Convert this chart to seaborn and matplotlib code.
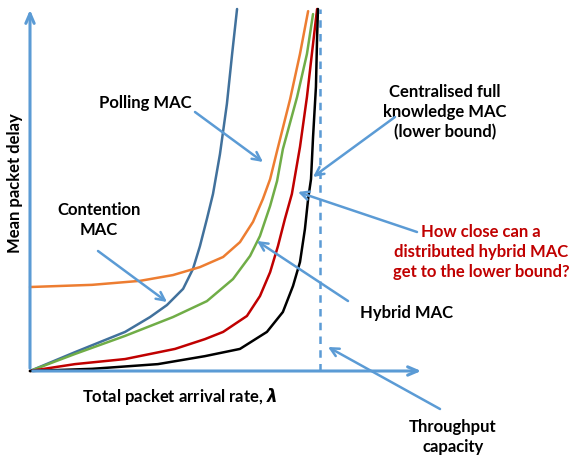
import matplotlib
matplotlib.use("Agg")
import matplotlib.pyplot as plt
import seaborn as sns
import pandas as pd

# arrival rate normalised so that throughput capacity = 1, delay normalised to the top of the axis
contention_x = [0, 0.155, 0.328, 0.414, 0.472, 0.528, 0.562, 0.586, 0.610, 0.631, 0.655, 0.679, 0.697, 0.714]
contention_y = [0, 0.052, 0.108, 0.149, 0.182, 0.227, 0.282, 0.345, 0.420, 0.489, 0.599, 0.738, 0.876, 1.0]

polling_x = [0, 0.214, 0.379, 0.493, 0.586, 0.666, 0.724, 0.769, 0.803, 0.828, 0.852, 0.897, 0.931, 0.959]
polling_y = [0.232, 0.238, 0.249, 0.265, 0.287, 0.315, 0.356, 0.412, 0.475, 0.530, 0.608, 0.751, 0.876, 0.994]

hybrid_x = [0, 0.155, 0.328, 0.493, 0.610, 0.700, 0.759, 0.793, 0.828, 0.852, 0.872, 0.921, 0.955, 0.976]
hybrid_y = [0, 0.047, 0.097, 0.149, 0.193, 0.254, 0.318, 0.373, 0.456, 0.525, 0.613, 0.757, 0.876, 0.986]

distributed_x = [0, 0.155, 0.328, 0.500, 0.603, 0.666, 0.748, 0.793, 0.828, 0.855, 0.879, 0.903,
                 0.931, 0.955, 0.972, 0.990]
distributed_y = [0, 0.019, 0.033, 0.061, 0.088, 0.108, 0.152, 0.207, 0.273, 0.345, 0.420, 0.489,
                 0.619, 0.757, 0.876, 1.0]

central_x = [0, 0.214, 0.441, 0.603, 0.724, 0.817, 0.872, 0.907, 0.931, 0.948, 0.959, 0.969,
             0.976, 0.986, 0.990, 0.993]
central_y = [0, 0.006, 0.019, 0.041, 0.061, 0.108, 0.163, 0.235, 0.301, 0.392, 0.475, 0.530,
             0.646, 0.785, 0.923, 1.0]

capacity = 1.0

curves = [
    (contention_x, contention_y, '#41719C'),
    (polling_x, polling_y, '#ED7D31'),
    (hybrid_x, hybrid_y, '#70AD47'),
    (distributed_x, distributed_y, '#C00000'),
    (central_x, central_y, '#000000'),
]

sns.set_style('white')
plt.rcParams['font.family'] = ['Lato', 'DejaVu Sans']
plt.rcParams['mathtext.fontset'] = 'custom'
plt.rcParams['mathtext.it'] = 'DejaVu Sans:bold:italic'

ARROW = '#5B9BD5'


def px(x, y):
    # picture pixel -> data coords (layout helper for labels/arrows)
    return ((x - 30) / 290, (372 - y) / 362)


fig = plt.figure(figsize=(5.78, 4.6), dpi=100)
ax = fig.add_axes([0, 0, 1, 1])
ax.set_xlim(px(0, 0)[0], px(578, 0)[0])
ax.set_ylim(px(0, 460)[1], px(0, 0)[1])
ax.axis('off')

for xs, ys, c in curves:
    df = pd.DataFrame({'x': xs, 'y': ys})
    sns.lineplot(data=df, x='x', y='y', color=c, lw=1.8, sort=False,
                 estimator=None, ax=ax, solid_joinstyle='round')

# axes
ax.annotate('', xy=px(30, 8), xytext=(0, 0),
            arrowprops=dict(arrowstyle='->,head_length=0.7,head_width=0.3', color=ARROW, lw=2.2))
ax.annotate('', xy=px(424, 372), xytext=(0, 0),
            arrowprops=dict(arrowstyle='->,head_length=0.7,head_width=0.3', color=ARROW, lw=2.2))
ax.plot([capacity, capacity], [0, 1.0], color=ARROW, lw=1.8, ls=(0, (3, 2.5)))

bold = dict(fontsize=12, fontweight='bold', color='black', ha='center', va='center')

ax.text(*px(15, 183), 'Mean packet delay', rotation=90, **bold)
ax.text(*px(180, 397), 'Total packet arrival rate, $\\lambda$', **bold)

ax.text(*px(145, 103), 'Polling MAC', **bold)
ax.text(*px(99, 220), 'Contention\nMAC', linespacing=1.3, **bold)
ax.text(*px(445, 112), 'Centralised full\nknowledge MAC\n(lower bound)', linespacing=1.3, **bold)
ax.text(*px(407, 313), 'Hybrid MAC', **bold)
ax.text(*px(453, 437), 'Throughput\ncapacity', linespacing=1.3, **bold)
red = dict(bold, color='#C00000')
ax.text(*px(481, 252), 'How close can a\ndistributed hybrid MAC\nget to the lower bound?', linespacing=1.3, **red)

arrows = [
    ((195, 113), (263, 163)),
    ((98, 252), (167, 303)),
    ((395, 118), (313, 178)),
    ((417, 233), (298, 193)),
    ((348, 302), (257, 242)),
    ((440, 410), (328, 348)),
]
for start, head in arrows:
    ax.annotate('', xy=px(*head), xytext=px(*start),
                arrowprops=dict(arrowstyle='->,head_length=0.6,head_width=0.3',
                                color=ARROW, lw=1.8, shrinkA=0, shrinkB=0))

fig.savefig('out.png', dpi=100)
